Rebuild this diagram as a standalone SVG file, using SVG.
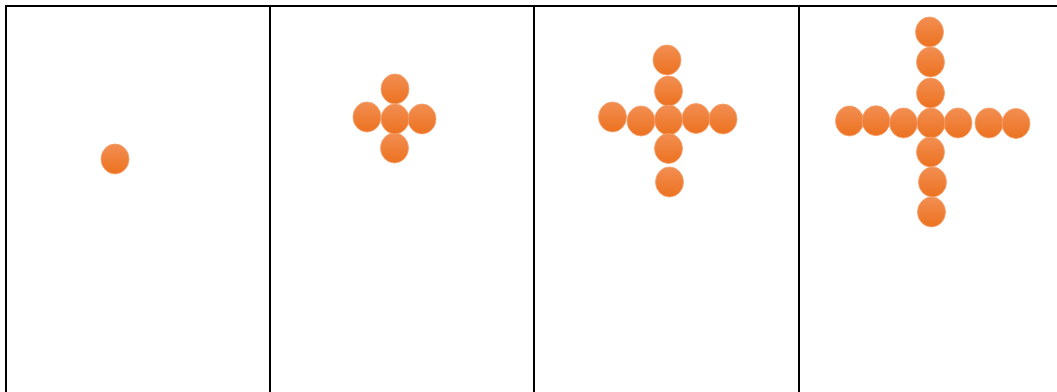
<svg xmlns="http://www.w3.org/2000/svg" width="1057" height="392" viewBox="0 0 1057 392">
<defs>
<linearGradient id="g" x1="0" y1="0" x2="0" y2="1">
<stop offset="0" stop-color="#F28E52"/>
<stop offset="1" stop-color="#EC7220"/>
</linearGradient>
<style>
.b{fill:url(#g);stroke:#F4A06C;stroke-width:0.8}
.ln{stroke:#000;stroke-width:2;fill:none}
</style>
</defs>
<rect width="1057" height="392" fill="#fff"/>
<g id="frame">
<path class="ln" d="M5 6H1057M6 6V392M270 6V392M534 6V392M799 6V392"/>
</g>
<g id="panel1">
<ellipse class="b" cx="115" cy="159" rx="14" ry="15"/>
</g>
<g id="panel2">
<ellipse class="b" cx="395" cy="89" rx="14" ry="15"/>
<ellipse class="b" cx="367" cy="117" rx="14" ry="15"/>
<ellipse class="b" cx="422" cy="119" rx="14" ry="15"/>
<ellipse class="b" cx="394.5" cy="148" rx="14" ry="15"/>
<ellipse class="b" cx="395" cy="119" rx="14" ry="15"/>
</g>
<g id="panel3">
<ellipse class="b" cx="667" cy="60" rx="14" ry="15"/>
<ellipse class="b" cx="668.5" cy="91" rx="14" ry="15"/>
<ellipse class="b" cx="612.5" cy="117" rx="14" ry="15"/>
<ellipse class="b" cx="641" cy="121" rx="14" ry="15"/>
<ellipse class="b" cx="696" cy="118.5" rx="14" ry="15"/>
<ellipse class="b" cx="723" cy="119" rx="14" ry="15"/>
<ellipse class="b" cx="668.5" cy="120" rx="14" ry="15"/>
<ellipse class="b" cx="668.5" cy="148.5" rx="14" ry="15"/>
<ellipse class="b" cx="669.5" cy="182" rx="14" ry="15"/>
</g>
<g id="panel4">
<ellipse class="b" cx="929.5" cy="32" rx="14" ry="15"/>
<ellipse class="b" cx="930.5" cy="62" rx="14" ry="15"/>
<ellipse class="b" cx="930.5" cy="93" rx="14" ry="15"/>
<ellipse class="b" cx="849.5" cy="121" rx="14" ry="15"/>
<ellipse class="b" cx="876" cy="120.7" rx="14" ry="15"/>
<ellipse class="b" cx="903.5" cy="123" rx="14" ry="15"/>
<ellipse class="b" cx="958" cy="123" rx="14" ry="15"/>
<ellipse class="b" cx="989" cy="123" rx="14" ry="15"/>
<ellipse class="b" cx="1016" cy="123.5" rx="14" ry="15"/>
<ellipse class="b" cx="931" cy="123" rx="14" ry="15"/>
<ellipse class="b" cx="930.5" cy="152" rx="14" ry="15"/>
<ellipse class="b" cx="932.5" cy="182" rx="14" ry="15"/>
<ellipse class="b" cx="931.5" cy="212" rx="14" ry="15"/>
</g>
</svg>
